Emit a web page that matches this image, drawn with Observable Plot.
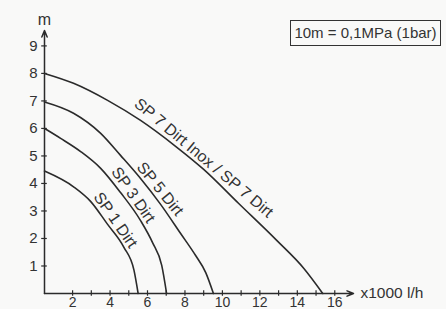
<!DOCTYPE html>
<html>
<head>
<meta charset="utf-8">
<script src="https://cdn.jsdelivr.net/npm/d3@7"></script>
<script src="https://cdn.jsdelivr.net/npm/@observablehq/plot@0.6"></script>
<style>
  html, body { margin: 0; padding: 0; background: #f9f9f8; }
  #wrap { position: relative; width: 446px; height: 309px; overflow: hidden; }
  #box { position: absolute; left: 290px; top: 20px; width: 151px; height: 26px;
         border: 1.6px solid #333; box-sizing: border-box; font: 15px "Liberation Sans", Arial, sans-serif;
         color: #333; line-height: 23px; text-align: center; white-space: nowrap; }
</style>
</head>
<body>
<div id="wrap"><div id="box">10m = 0,1MPa (1bar)</div></div>
<script>
// Flow in x1000 l/h, head in m
const flowSP1 = [0.5, 2.07, 2.96, 3.85, 4.74, 5.28, 5.5];
const headSP1 = [4.45, 3.87, 3.35, 2.53, 1.68, 0.84, 0];
const flowSP3 = [0.5, 1.36, 2.43, 3.5, 4.56, 5.63, 6.27, 6.76, 7.02];
const headSP3 = [6.0, 5.64, 5.16, 4.55, 3.67, 2.65, 1.85, 1.02, 0];
const flowSP5 = [0.5, 2.05, 3.5, 4.56, 5.63, 6.70, 7.77, 8.57, 9.11, 9.52];
const headSP5 = [6.96, 6.55, 5.82, 5.02, 4.18, 3.24, 2.18, 1.38, 0.76, 0];
const flowSP7 = [0.5, 2.05, 3.87, 5.63, 7.5, 9.0, 10.87, 12.90, 14.35, 15.36];
const headSP7 = [8.0, 7.64, 7.02, 6.29, 5.35, 4.51, 3.27, 1.93, 0.91, 0];

const seriesNames = ["SP 1 Dirt", "SP 3 Dirt", "SP 5 Dirt", "SP 7 Dirt Inox / SP 7 Dirt"];
const labelAt = [3.9, 4.85, 6.3, 8.7];          // flow where each label sits
const labelAngle = [55, 55, 51, 40];

const xTicksLabeled = [2, 4, 6, 8, 10, 12, 14, 16];
const xTicksAll = [2,3,4,5,6,7,8,9,10,11,12,13,14,15,16];
const yTicks = [1,2,3,4,5,6,7,8,9];
const yUnit = "m";
const xUnit = "x1000 l/h";

const flows = [flowSP1, flowSP3, flowSP5, flowSP7];
const heads = [headSP1, headSP3, headSP5, headSP7];
const curves = seriesNames.flatMap((name, i) => flows[i].map((q, j) => ({name, q, h: heads[i][j]})));

function interp(fs, hs, q) {
  for (let j = 0; j < fs.length - 1; j++) {
    if (q >= fs[j] && q <= fs[j+1]) {
      const t = (q - fs[j]) / (fs[j+1] - fs[j]);
      return hs[j] + t * (hs[j+1] - hs[j]);
    }
  }
  return hs[hs.length - 1];
}
const labels = seriesNames.map((name, i) => ({
  name, q: labelAt[i], h: interp(flows[i], heads[i], labelAt[i]), a: labelAngle[i]
}));

const X0 = 0.5, X1 = 17.0, Y1 = 9.56;
const ink = "#2b2b2b";
const font = '"Liberation Sans", Arial, sans-serif';
const gap = 9;

const chart = Plot.plot({
  width: 446,
  height: 309,
  marginLeft: 44,
  marginRight: 93,
  marginTop: 30,
  marginBottom: 16,
  style: {background: "transparent", fontFamily: font, color: "#333", overflow: "visible"},
  x: {domain: [X0, X1], axis: null},
  y: {domain: [0, Y1], axis: null},
  marks: [
    // axes
    Plot.arrow([0], {x1: X0, y1: 0, x2: X1, y2: 0, stroke: ink, strokeWidth: 1.5, headLength: 7, headAngle: 45, bend: 0}),
    Plot.arrow([0], {x1: X0, y1: 0, x2: X0, y2: Y1, stroke: ink, strokeWidth: 1.5, headLength: 7, headAngle: 45, bend: 0}),
    Plot.ruleX(xTicksAll, {x: d => d, y1: -0.1, y2: 0.1, stroke: ink, strokeWidth: 1.2}),
    Plot.ruleY(yTicks, {y: d => d, x1: X0 - 0.15, x2: X0 + 0.15, stroke: ink, strokeWidth: 1.2}),
    Plot.text(xTicksLabeled, {x: d => d, y: 0, text: d => String(d), dy: 9, fontSize: 14, fill: "#333"}),
    Plot.text(yTicks, {x: X0, y: d => d, text: d => String(d), dx: -7, textAnchor: "end", fontSize: 15, fill: "#333"}),
    Plot.text([yUnit], {x: X0, y: Y1, text: d => d, dy: -11, fontSize: 16, fill: "#333"}),
    Plot.text([xUnit], {x: X1, y: 0, text: d => d, dx: 7, textAnchor: "start", fontSize: 15.5, fill: "#333"}),
    // curves
    Plot.line(curves, {x: "q", y: "h", z: "name", curve: "monotone-x", stroke: ink, strokeWidth: 1.6}),
    // curve labels, offset perpendicular to the curve
    ...labels.map(l => Plot.text([l], {
      x: "q", y: "h", text: "name", rotate: l.a,
      dx: gap * Math.sin(l.a * Math.PI / 180), dy: -gap * Math.cos(l.a * Math.PI / 180),
      fontSize: 16, fill: "#333"
    }))
  ]
});
document.getElementById("wrap").prepend(chart);
</script>
</body>
</html>
